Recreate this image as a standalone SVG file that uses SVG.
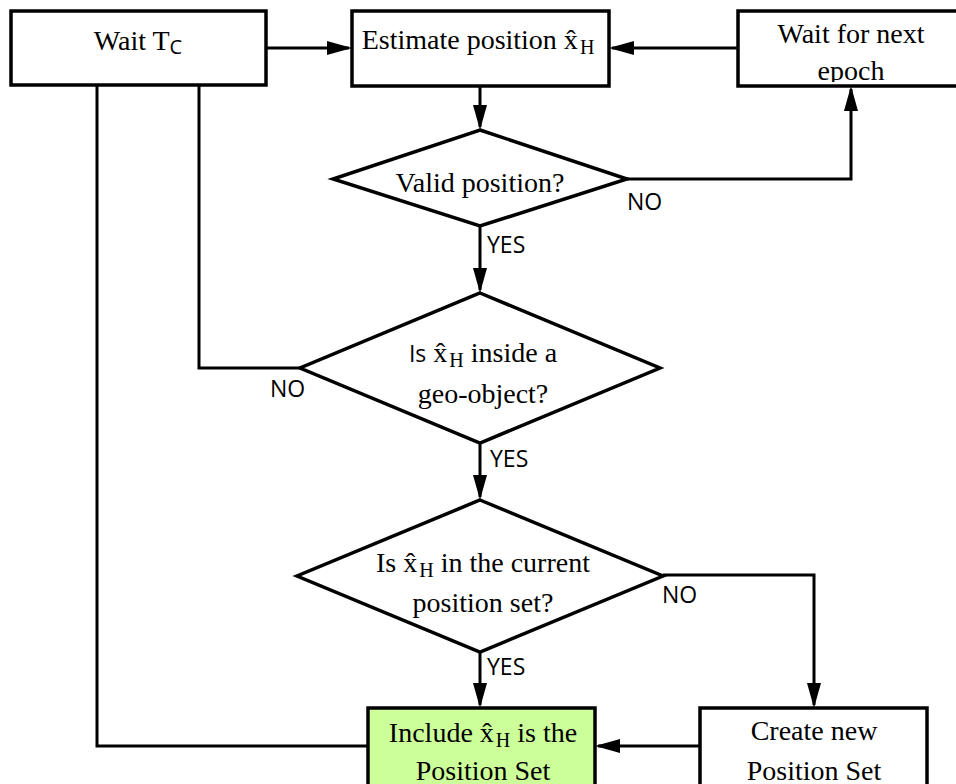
<svg xmlns="http://www.w3.org/2000/svg" width="956" height="784" viewBox="0 0 956 784">
  <style>
    .box { fill: #ffffff; stroke: #000000; stroke-width: 3.5; }
    .box.hl { fill: #ccff99; }
    .dia { fill: #ffffff; stroke: #000000; stroke-width: 3.5; stroke-linejoin: miter; }
    .wire { fill: none; stroke: #000000; stroke-width: 3; }
    .arr { marker-end: url(#head); }
    .t { font-family: "Liberation Serif", "Times New Roman", serif; font-size: 28px; fill: #000; }
    .sub { font-size: 20px; }
    .sans { font-family: "Open Sans", "Liberation Sans", sans-serif; }
    .lbl { font-family: "Open Sans", "Liberation Sans", sans-serif; font-size: 23px; fill: #000; }
  </style>
  <defs>
    <marker id="head" markerUnits="userSpaceOnUse" markerWidth="26" markerHeight="16" refX="22" refY="7" orient="auto">
      <path d="M0,0 L25,7 L0,14 Z" fill="#000"/>
    </marker>
    <clipPath id="clipWaitNext"><rect x="740" y="13" width="230" height="69"/></clipPath>
  </defs>
  <rect width="956" height="784" fill="#ffffff"/>

  <!-- connectors -->
  <g id="connectors">
    <path class="wire arr" d="M266,48 H349"/>
    <path class="wire arr" d="M738,48 H612"/>
    <path class="wire arr" d="M480,86 V127"/>
    <path class="wire arr" d="M627,179 H851 V89"/>
    <path class="wire arr" d="M480,226 V290"/>
    <path class="wire" d="M300,368 H199 V85"/>
    <path class="wire arr" d="M480,443 V497"/>
    <path class="wire arr" d="M663,575 H814 V705"/>
    <path class="wire arr" d="M480,652 V705"/>
    <path class="wire arr" d="M700,746 H598"/>
    <path class="wire" d="M97,85 V746 H368"/>
    <text class="lbl" x="627" y="210">NO</text>
    <text class="lbl" x="487" y="253">YES</text>
    <text class="lbl" x="270" y="397">NO</text>
    <text class="lbl" x="490" y="467">YES</text>
    <text class="lbl" x="662" y="603">NO</text>
    <text class="lbl" x="487" y="675">YES</text>
  </g>

  <!-- process boxes -->
  <g id="wait-tc">
    <rect class="box" x="11" y="11" width="255" height="74"/>
    <text class="t" x="138" y="50" text-anchor="middle">Wait T<tspan class="sub sans" dy="4">C</tspan></text>
  </g>

  <g id="estimate">
    <rect class="box" x="352" y="11" width="257" height="75"/>
    <text class="t" x="478" y="49" text-anchor="middle">Estimate position x̂<tspan class="sub" dx="2" dy="5">H</tspan></text>
  </g>

  <g id="wait-next">
    <rect class="box" x="738" y="11" width="232" height="75"/>
    <g clip-path="url(#clipWaitNext)">
      <text class="t" x="851" y="43" text-anchor="middle">Wait for next</text>
      <text class="t" x="851" y="80" text-anchor="middle">epoch</text>
    </g>
  </g>

  <!-- decisions -->
  <g id="valid">
    <polygon class="dia" points="480,130 627,179 480,226 333,179"/>
    <text class="t" x="480" y="192" text-anchor="middle">Valid position?</text>
  </g>

  <g id="inside-geo">
    <polygon class="dia" points="480,293 660,368 480,443 300,368"/>
    <text class="t" x="483" y="362" text-anchor="middle"><tspan class="sans" font-size="23">Is</tspan> x̂<tspan class="sub" dx="2" dy="5">H</tspan><tspan dy="-5"> inside a</tspan></text>
    <text class="t" x="483" y="403" text-anchor="middle">geo-object?</text>
  </g>

  <g id="in-current-set">
    <polygon class="dia" points="480,500 663,576 480,652 297,576"/>
    <text class="t" x="483" y="572" text-anchor="middle">Is x̂<tspan class="sub" dx="2" dy="5">H</tspan><tspan dy="-5"> in the current</tspan></text>
    <text class="t" x="483" y="612" text-anchor="middle">position set?</text>
  </g>

  <!-- outcome boxes -->
  <g id="include">
    <rect class="box hl" x="368" y="708" width="227" height="90"/>
    <text class="t" x="483" y="742" text-anchor="middle">Include x̂<tspan class="sub" dx="2" dy="5">H</tspan><tspan dy="-5"> is the</tspan></text>
    <text class="t" x="483" y="780" text-anchor="middle">Position Set</text>
  </g>

  <g id="create">
    <rect class="box" x="700" y="708" width="227" height="90"/>
    <text class="t" x="814" y="740" text-anchor="middle">Create new</text>
    <text class="t" x="814" y="780" text-anchor="middle">Position Set</text>
  </g>
</svg>
